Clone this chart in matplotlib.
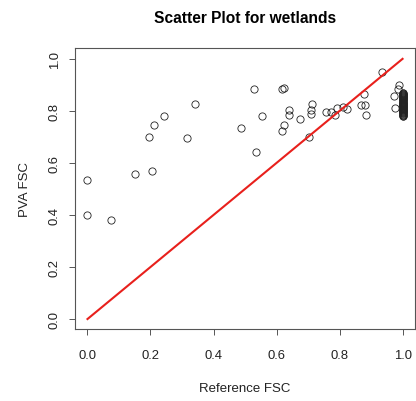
import matplotlib.pyplot as plt

# Данные: эталонная доля снежного покрова и оценка PVA
ref_fsc = [0.0, 0.0, 0.075, 0.152, 0.195, 0.205, 0.21, 0.243, 0.315, 0.342,
           0.488, 0.53, 0.535, 0.553, 0.617, 0.623, 0.618, 0.624, 0.638, 0.641,
           0.676, 0.702, 0.709, 0.71, 0.712, 0.757, 0.774, 0.786, 0.793, 0.811,
           0.823, 0.868, 0.877, 0.88, 0.884, 0.935, 0.974, 0.975, 0.985, 0.99]
pva_fsc = [0.535, 0.399, 0.381, 0.556, 0.699, 0.57, 0.745, 0.78, 0.697, 0.826,
           0.735, 0.883, 0.641, 0.78, 0.885, 0.888, 0.722, 0.745, 0.785, 0.804,
           0.769, 0.701, 0.805, 0.787, 0.826, 0.797, 0.797, 0.785, 0.813, 0.814,
           0.806, 0.823, 0.865, 0.822, 0.786, 0.951, 0.857, 0.81, 0.885, 0.898]

# Плотная группа точек при Reference FSC = 1.0
pva_full = [0.870, 0.868, 0.866, 0.864, 0.862, 0.860, 0.858, 0.856, 0.854, 0.852,
            0.850, 0.848, 0.846, 0.844, 0.842, 0.840, 0.838, 0.836, 0.834, 0.832,
            0.830, 0.828, 0.826, 0.824, 0.822, 0.820, 0.818, 0.816, 0.814, 0.812,
            0.810, 0.808, 0.806, 0.804, 0.802, 0.800, 0.798, 0.796, 0.794, 0.792,
            0.790, 0.788, 0.786, 0.784, 0.782, 0.780]
ref_full = [1.0] * len(pva_full)

ticks = [0.0, 0.2, 0.4, 0.6, 0.8, 1.0]
tick_labels = ['0.0', '0.2', '0.4', '0.6', '0.8', '1.0']

plt.rcParams['font.family'] = ['Liberation Sans', 'DejaVu Sans']

fig = plt.figure(figsize=(4.16, 4.02), dpi=100)
ax = fig.add_axes([0.180, 0.178, 0.818, 0.699])

ax.plot(ref_fsc + ref_full, pva_fsc + pva_full, linestyle='none', marker='o',
        markersize=5.2, markerfacecolor='none', markeredgecolor='#222222',
        markeredgewidth=0.6)
ax.plot([0, 1], [0, 1], color='#e8201c', linewidth=1.5)

ax.set_xlim(-0.04, 1.04)
ax.set_ylim(-0.04, 1.04)
ax.set_xticks(ticks)
ax.set_xticklabels(tick_labels)
ax.set_yticks(ticks)
ax.set_yticklabels(tick_labels, rotation=90, va='center')
ax.tick_params(axis='both', direction='out', length=4.3, width=0.7,
               color='#555555', labelsize=9.4, labelcolor='#222222')
ax.tick_params(axis='x', pad=10)
ax.tick_params(axis='y', pad=6)
for s in ax.spines.values():
    s.set_color('#555555')
    s.set_linewidth(0.8)

ax.set_title('Scatter Plot for wetlands', fontsize=11.2, fontweight='bold', pad=19)
ax.set_xlabel('Reference FSC', fontsize=9.5, labelpad=15, color='#222222')
ax.set_ylabel('PVA FSC', fontsize=9.5, labelpad=13, color='#222222')

plt.savefig('out.png', dpi=100)
